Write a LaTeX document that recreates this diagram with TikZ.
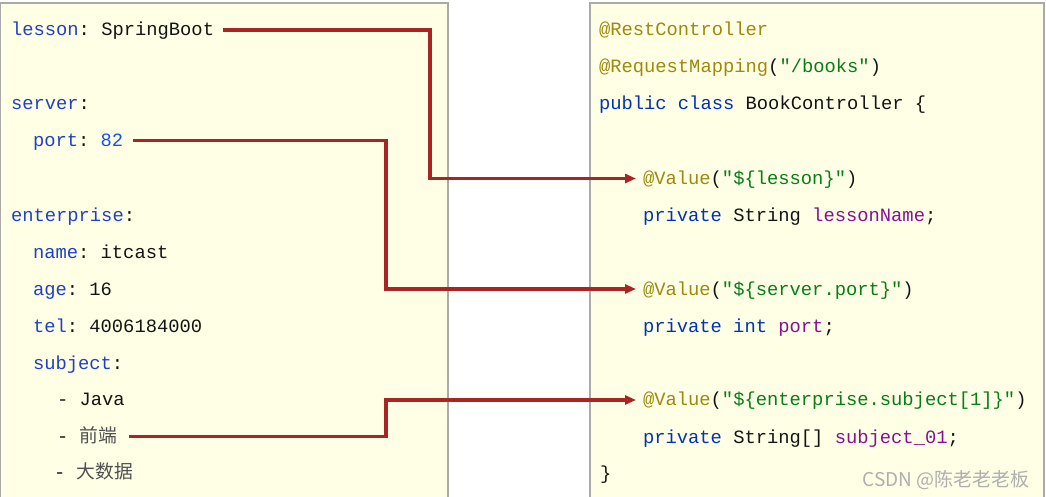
\documentclass[tikz,border=0pt]{standalone}
\usepackage{fontspec}
\setmonofont{Liberation Mono}
\newfontfamily\cjk{Noto Sans CJK SC}
\usetikzlibrary{arrows.meta}
\definecolor{bgyellow}{RGB}{255,255,230}
\definecolor{panelborder}{RGB}{170,170,170}
\definecolor{ykey}{RGB}{32,64,200}
\definecolor{ynum}{RGB}{23,80,235}
\definecolor{txtdark}{RGB}{20,20,20}
\definecolor{anno}{RGB}{158,136,13}
\definecolor{strg}{RGB}{6,125,23}
\definecolor{kw}{RGB}{0,51,179}
\definecolor{fld}{RGB}{135,16,148}
\definecolor{cjkgrey}{RGB}{80,80,80}
\definecolor{arrowred}{RGB}{170,36,36}
\definecolor{wmark}{RGB}{175,175,175}
\newcommand{\yk}[1]{\textcolor{ykey}{#1}}
\newcommand{\an}[1]{\textcolor{anno}{#1}}
\newcommand{\st}[1]{\textcolor{strg}{#1}}
\newcommand{\kwd}[1]{\textcolor{kw}{#1}}
\newcommand{\fd}[1]{\textcolor{fld}{#1}}
\begin{document}
\begin{tikzpicture}[x=1pt,y=-1pt,
  codeline/.style={anchor=base west,inner sep=0pt,outer sep=0pt,text=txtdark,
    font=\ttfamily\fontsize{18.8pt}{22pt}\selectfont},
  panel/.style={fill=bgyellow},
  paneledge/.style={draw=panelborder,line width=1.2pt},
  conn/.style={draw=arrowred,line width=3.2pt,
    -{Triangle[length=11pt,width=9pt]}}]
\useasboundingbox (0,0) rectangle (1046,497);
% panels
\fill[panel] (0,3) rectangle (448,497);
\draw[paneledge] (0.6,497) -- (0.6,3) -- (448,3) -- (448,497);
\fill[panel] (590,3) rectangle (1044,497);
\draw[paneledge] (590,497) -- (590,3) -- (1044,3) -- (1044,497);
% YAML side
\node[codeline] (lesson) at (11,36) {\yk{lesson}: SpringBoot};
\node[codeline] (server) at (11,110) {\yk{server}:};
\node[codeline] (port) at (33,147) {\yk{port}: \textcolor{ynum}{82}};
\node[codeline] (ent) at (11,221) {\yk{enterprise}:};
\node[codeline] (name) at (33,258) {\yk{name}: itcast};
\node[codeline] (age) at (33,295) {\yk{age}: 16};
\node[codeline] (tel) at (33,332) {\yk{tel}: 4006184000};
\node[codeline] (subj) at (33,369) {\yk{subject}:};
\node[codeline] (java) at (57,405) {- Java};
\node[codeline] (qd) at (57,442) {- {\cjk\textcolor{cjkgrey}{前端}}};
\node[codeline] (dsj) at (54,478) {- {\cjk\textcolor{cjkgrey}{大数据}}};
% Java side
\node[codeline] (rc) at (599,36) {\an{@RestController}};
\node[codeline] (rm) at (599,73) {\an{@RequestMapping}(\st{"/books"})};
\node[codeline] (cls) at (599,110) {\kwd{public class} BookController \{};
\node[codeline] (v1) at (643,185) {\an{@Value}(\st{"\$\{lesson\}"})};
\node[codeline] (f1) at (643,221) {\kwd{private} String \fd{lessonName};};
\node[codeline] (v2) at (643,295) {\an{@Value}(\st{"\$\{server.port\}"})};
\node[codeline] (f2) at (643,332) {\kwd{private int} \fd{port};};
\node[codeline] (v3) at (643,405) {\an{@Value}(\st{"\$\{enterprise.subject[1]\}"})};
\node[codeline] (f3) at (643,443) {\kwd{private} String[] \fd{subject\_01};};
\node[codeline] (close) at (600,479) {\}};
% watermark
\node[anchor=base east,inner sep=0pt,text=wmark,font=\cjk\fontsize{19pt}{22pt}\selectfont] (wm) at (1030,486) {CSDN @陈老老老板};
% connectors
\coordinate (b1) at (430,0);
\coordinate (b2) at (386,0);
\coordinate (s1) at ([xshift=9pt,yshift=6pt]lesson.base east);
\coordinate (s2) at ([xshift=10pt,yshift=6.5pt]port.base east);
\coordinate (s3) at ([xshift=12pt,yshift=5.5pt]qd.base east);
\coordinate (t1) at ([xshift=-7pt,yshift=6.5pt]v1.base west);
\coordinate (t2) at ([xshift=-7pt,yshift=6pt]v2.base west);
\coordinate (t3) at ([xshift=-7pt,yshift=5pt]v3.base west);
\draw[conn] (s1) -| (t1 -| b1) -- (t1);
\draw[conn] (s2) -| (t2 -| b2) -- (t2);
\draw[conn] (s3) -| (t3 -| b2) -- (t3);
\end{tikzpicture}
\end{document}
